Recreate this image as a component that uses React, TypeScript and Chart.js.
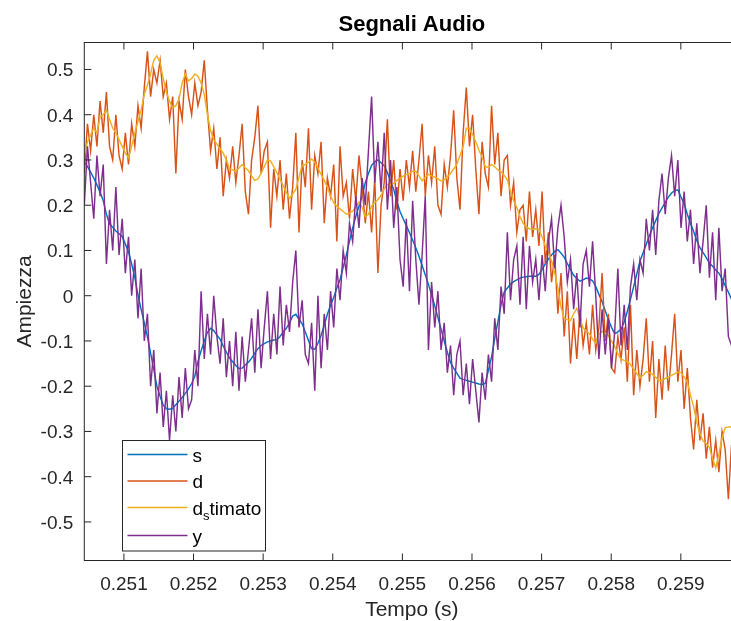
import React, { useEffect, useRef } from "react";
import { Chart, registerables } from "chart.js";

Chart.register(...registerables);

// Sampling grid: 22050 Hz, starting at sample 5522
const SAMPLE_RATE = 22050;
const FIRST_SAMPLE = 5522;
const T_MIN = 5522 / 22050;
const T_MAX = 11459 / 44100;
const Y_MIN = -0.5852;
const Y_MAX = 0.5596;

const X_TICKS = [0.251, 0.252, 0.253, 0.254, 0.255, 0.256, 0.257, 0.258, 0.259];
const X_TICK_LABELS = ["0.251", "0.252", "0.253", "0.254", "0.255", "0.256", "0.257", "0.258", "0.259"];
const Y_TICKS = [0.5, 0.4, 0.3, 0.2, 0.1, 0, -0.1, -0.2, -0.3, -0.4, -0.5];
const Y_TICK_LABELS = ["0.5", "0.4", "0.3", "0.2", "0.1", "0", "-0.1", "-0.2", "-0.3", "-0.4", "-0.5"];

const TITLE = "Segnali Audio";
const X_LABEL = "Tempo (s)";
const Y_LABEL = "Ampiezza";

// clean signal
const S = [
  0.296, 0.285, 0.273, 0.26, 0.245, 0.229, 0.21, 0.18, 0.159, 0.151,
  0.143, 0.137, 0.131, 0.114, 0.097, 0.07, 0.04, 0.002, -0.03, -0.06,
  -0.091, -0.127, -0.163, -0.2, -0.222, -0.242, -0.25, -0.251, -0.249, -0.241,
  -0.233, -0.225, -0.216, -0.206, -0.194, -0.178, -0.145, -0.122, -0.1, -0.081,
  -0.072, -0.077, -0.087, -0.096, -0.111, -0.125, -0.138, -0.146, -0.154, -0.161,
  -0.16, -0.153, -0.147, -0.138, -0.127, -0.117, -0.11, -0.106, -0.102, -0.1,
  -0.098, -0.097, -0.09, -0.08, -0.072, -0.06, -0.045, -0.041, -0.052, -0.062,
  -0.08, -0.099, -0.117, -0.118, -0.105, -0.088, -0.065, -0.041, -0.021, -0.004,
  0.017, 0.035, 0.063, 0.09, 0.12, 0.15, 0.175, 0.198, 0.22, 0.25,
  0.27, 0.288, 0.296, 0.3, 0.294, 0.287, 0.272, 0.254, 0.235, 0.208,
  0.186, 0.17, 0.155, 0.139, 0.123, 0.106, 0.087, 0.067, 0.046, 0.025,
  0.002, -0.022, -0.048, -0.074, -0.1, -0.125, -0.148, -0.16, -0.171, -0.182,
  -0.185, -0.187, -0.189, -0.191, -0.193, -0.195, -0.196, -0.194, -0.165, -0.135,
  -0.095, -0.058, -0.02, 0.008, 0.017, 0.026, 0.031, 0.035, 0.039, 0.041,
  0.042, 0.043, 0.043, 0.043, 0.047, 0.058, 0.07, 0.081, 0.09, 0.098,
  0.102, 0.094, 0.085, 0.071, 0.058, 0.045, 0.038, 0.032, 0.035, 0.039,
  0.037, 0.033, 0.02, 0.003, -0.013, -0.033, -0.053, -0.07, -0.084, -0.08,
  -0.074, -0.058, -0.035, -0.008, 0.02, 0.048, 0.076, 0.095, 0.114, 0.133,
  0.15, 0.166, 0.182, 0.194, 0.206, 0.218, 0.227, 0.232, 0.234, 0.218,
  0.203, 0.18, 0.16, 0.142, 0.122, 0.106, 0.095, 0.084, 0.072, 0.065,
  0.057, 0.05, 0.038, 0.022, 0.008, -0.008, -0.025, -0.042,
];

// disturbance
const D = [
  0.27, 0.38, 0.32, 0.4, 0.33, 0.43, 0.36, 0.45, 0.33, 0.3,
  0.4, 0.31, 0.28, 0.36, 0.29, 0.38, 0.33, 0.42, 0.37, 0.46,
  0.54, 0.44, 0.5, 0.47, 0.52, 0.44, 0.47, 0.39, 0.44, 0.27,
  0.43, 0.39, 0.5, 0.44, 0.4, 0.47, 0.42, 0.45, 0.52, 0.41,
  0.32, 0.37, 0.28, 0.35, 0.22, 0.3, 0.26, 0.33, 0.25, 0.31,
  0.38, 0.23, 0.18, 0.3, 0.35, 0.42, 0.27, 0.32, 0.34, 0.15,
  0.28, 0.22, 0.3, 0.19, 0.27, 0.17, 0.24, 0.36, 0.14, 0.3,
  0.24, 0.37, 0.19, 0.31, 0.27, 0.34, 0.16, 0.26, 0.22, 0.29,
  0.12, 0.33, 0.22, 0.25, 0.17, 0.28, 0.21, 0.31, 0.24, 0.16,
  0.23, 0.14, 0.26, 0.05, 0.2, 0.25, 0.39, 0.22, 0.3, 0.19,
  0.28, 0.21, 0.3, 0.24, 0.32, 0.23, 0.3, 0.38, 0.22, 0.31,
  0.25, 0.33, 0.2, 0.18, 0.29, 0.24, 0.31, 0.41, 0.26, 0.19,
  0.36, 0.46, 0.33, 0.4, 0.28, 0.18, 0.34, 0.27, 0.24, 0.42,
  0.29, 0.36, 0.22, 0.3, 0.31, 0.2, 0.25, 0.14, 0.19, 0.2,
  0.12, 0.23, 0.13, 0.19, 0.11, 0.23, 0.07, 0.14, 0.03, 0.09,
  -0.04, 0.05, -0.09, 0.01, -0.15, -0.05, -0.14, -0.03, -0.11, -0.06,
  -0.13, -0.02, -0.12, -0.07, 0.05, -0.1, -0.04, -0.16, -0.17, -0.09,
  -0.14, -0.07, -0.19, -0.02, -0.22, -0.12, -0.2, -0.14, -0.05, -0.19,
  -0.1, -0.27, -0.14, -0.23, -0.11, -0.21, -0.13, -0.04, -0.19, -0.12,
  -0.25, -0.16, -0.27, -0.34, -0.23, -0.32, -0.26, -0.36, -0.29, -0.38,
  -0.32, -0.39, -0.3, -0.34, -0.45, -0.33, -0.38, -0.3,
];

// estimated disturbance
const D_STIMATO = [
  0.31, 0.34, 0.355, 0.37, 0.36, 0.395, 0.4, 0.41, 0.39, 0.37,
  0.36, 0.345, 0.33, 0.315, 0.305, 0.33, 0.36, 0.385, 0.41, 0.445,
  0.465, 0.49, 0.52, 0.53, 0.515, 0.48, 0.45, 0.43, 0.415, 0.42,
  0.435, 0.47, 0.49, 0.475, 0.48, 0.49, 0.485, 0.47, 0.445, 0.4,
  0.365, 0.345, 0.335, 0.325, 0.315, 0.3, 0.28, 0.278, 0.275, 0.282,
  0.29, 0.283, 0.276, 0.265, 0.255, 0.258, 0.27, 0.285, 0.3, 0.298,
  0.285, 0.272, 0.257, 0.243, 0.228, 0.215, 0.225, 0.235, 0.262, 0.288,
  0.29, 0.295, 0.302, 0.295, 0.282, 0.268, 0.255, 0.24, 0.22, 0.206,
  0.198, 0.192, 0.186, 0.18, 0.183, 0.187, 0.197, 0.207, 0.195, 0.175,
  0.18, 0.198, 0.206, 0.212, 0.222, 0.236, 0.246, 0.244, 0.248, 0.255,
  0.26, 0.264, 0.268, 0.27, 0.275, 0.275, 0.265, 0.254, 0.262, 0.268,
  0.265, 0.262, 0.258, 0.254, 0.256, 0.263, 0.27, 0.28, 0.29, 0.31,
  0.33, 0.37, 0.37, 0.356, 0.34, 0.322, 0.306, 0.285, 0.284, 0.29,
  0.285, 0.278, 0.274, 0.266, 0.256, 0.23, 0.21, 0.195, 0.175, 0.16,
  0.152, 0.148, 0.147, 0.148, 0.147, 0.13, 0.11, 0.095, 0.078, 0.05,
  0.018, -0.025, -0.05, -0.053, -0.055, -0.04, -0.028, -0.05, -0.071, -0.078,
  -0.084, -0.096, -0.105, -0.085, -0.079, -0.083, -0.088, -0.1, -0.112, -0.128,
  -0.14, -0.143, -0.145, -0.152, -0.162, -0.172, -0.182, -0.176, -0.168, -0.17,
  -0.174, -0.18, -0.188, -0.187, -0.183, -0.18, -0.176, -0.172, -0.169, -0.17,
  -0.18, -0.19, -0.22, -0.245, -0.28, -0.305, -0.321, -0.327, -0.335, -0.36,
  -0.38, -0.35, -0.315, -0.292, -0.29, -0.29, -0.3, -0.31,
];

// received signal
const Y = [
  0.2, 0.33, 0.25, 0.17, 0.31, 0.22, 0.29, 0.07, 0.19, 0.1,
  0.24, 0.09, 0.17, 0.05, 0.13, 0.0, 0.08, -0.05, 0.06, -0.1,
  -0.04, -0.2, -0.12, -0.26, -0.17, -0.29, -0.21, -0.32, -0.22, -0.3,
  -0.18, -0.27, -0.16, -0.25, -0.23, -0.12, -0.2, 0.01, -0.14, -0.04,
  -0.13, 0.0, -0.09, -0.15, -0.05, -0.18, -0.1, -0.2, -0.08, -0.21,
  -0.09, -0.19, -0.12, -0.05, -0.17, -0.03, -0.16, -0.07, 0.01, -0.14,
  -0.04, -0.13, 0.02, -0.11, -0.02, -0.08, 0.03, 0.1, -0.07, -0.01,
  -0.13, -0.15, -0.06, -0.21, 0.0, -0.16, -0.04, -0.12, 0.01, -0.07,
  0.06, -0.01, 0.1, 0.05, 0.16, 0.12, 0.22, 0.15, 0.26, 0.2,
  0.32, 0.44, 0.25, 0.34, 0.23, 0.36, 0.19, 0.3, 0.15, 0.24,
  0.08, 0.02, 0.17, 0.01, 0.21, 0.08, -0.02, 0.09, 0.22, -0.12,
  0.03, -0.07, 0.01, -0.12, -0.06, -0.17, -0.11, -0.22, -0.13, -0.1,
  -0.22, -0.15, -0.24, -0.14, -0.21, -0.28, -0.17, -0.23, -0.13, -0.19,
  -0.05, -0.12, 0.02, -0.04, 0.14, -0.01, 0.08, 0.11, -0.02, 0.13,
  -0.03, 0.11, 0.03, 0.08, -0.01, 0.09, 0.01, 0.12, 0.17, 0.06,
  0.15, 0.2, 0.13, 0.03, 0.08, -0.03, 0.05, -0.07, 0.07, 0.1,
  0.02, 0.12, 0.0, -0.14, -0.03, -0.13, -0.05, -0.16, -0.08, 0.06,
  -0.11, -0.02, -0.12, 0.02, 0.07, -0.01, 0.08, 0.05, 0.17, 0.1,
  0.19, 0.09, 0.21, 0.27, 0.18, 0.26, 0.31, 0.22, 0.3, 0.15,
  0.23, 0.12, 0.19, 0.07, 0.16, 0.05, 0.12, 0.2, 0.04, 0.14,
  -0.01, 0.15, 0.01, 0.06, -0.09, -0.11, -0.02, -0.12,
];

const SERIES_NAMES = ["s", "d", "d_stimato", "y"];
const SERIES_COLORS = ["#0072BD", "#D95319", "#EDB120", "#7E2F8E"];

const FONT = "'Liberation Sans', Arial, Helvetica, sans-serif";
const INK = "#262626";
const LINE_WIDTH = 1.45;

const toPoints = (vals: number[]) =>
  vals.map((v, i) => ({ x: (FIRST_SAMPLE + i) / SAMPLE_RATE, y: v }));

function drawLabelWithSubscript(ctx: CanvasRenderingContext2D, text: string, x: number, y: number) {
  const parts = text.split("_");
  ctx.textAlign = "left";
  ctx.font = `19px ${FONT}`;
  ctx.fillText(parts[0], x, y);
  let cx = x + ctx.measureText(parts[0]).width;
  if (parts.length > 1) {
    const sub = parts[1].charAt(0);
    ctx.font = `13px ${FONT}`;
    ctx.fillText(sub, cx, y + 5);
    cx += ctx.measureText(sub).width;
    ctx.font = `19px ${FONT}`;
    ctx.fillText(parts[1].slice(1), cx, y);
  }
}

const axesDecor = {
  id: "axesDecor",
  afterDraw(chart: any) {
    const { ctx, chartArea: a } = chart;
    const xs = chart.scales.x;
    const ys = chart.scales.y;
    ctx.save();

    // box
    ctx.strokeStyle = INK;
    ctx.lineWidth = 1;
    ctx.strokeRect(a.left, a.top, a.right - a.left, a.bottom - a.top);

    // inward tick marks
    ctx.beginPath();
    X_TICKS.forEach((v) => {
      const px = xs.getPixelForValue(v);
      ctx.moveTo(px, a.bottom);
      ctx.lineTo(px, a.bottom - 7);
      ctx.moveTo(px, a.top);
      ctx.lineTo(px, a.top + 7);
    });
    Y_TICKS.forEach((v) => {
      const py = ys.getPixelForValue(v);
      ctx.moveTo(a.left, py);
      ctx.lineTo(a.left + 7, py);
      ctx.moveTo(a.right, py);
      ctx.lineTo(a.right - 7, py);
    });
    ctx.stroke();

    // tick labels
    ctx.fillStyle = INK;
    ctx.font = `19px ${FONT}`;
    ctx.textBaseline = "alphabetic";
    ctx.textAlign = "center";
    X_TICKS.forEach((v, i) => {
      ctx.fillText(X_TICK_LABELS[i], xs.getPixelForValue(v), a.bottom + 29.5);
    });
    ctx.textAlign = "right";
    Y_TICKS.forEach((v, i) => {
      ctx.fillText(Y_TICK_LABELS[i], a.left - 11, ys.getPixelForValue(v) + 6.8);
    });

    // title and axis labels
    const cx = (a.left + a.right) / 2;
    ctx.textAlign = "center";
    ctx.font = `bold 22px ${FONT}`;
    ctx.fillStyle = "#000000";
    ctx.fillText(TITLE, cx, 30.5);
    ctx.fillStyle = INK;
    ctx.font = `21px ${FONT}`;
    ctx.fillText(X_LABEL, cx, 616);
    ctx.save();
    ctx.translate(31, (a.top + a.bottom) / 2);
    ctx.rotate(-Math.PI / 2);
    ctx.fillText(Y_LABEL, 0, 0);
    ctx.restore();

    // legend
    const lx = 122.5;
    const ly = 440.5;
    const lw = 143;
    const lh = 110.5;
    ctx.fillStyle = "#ffffff";
    ctx.fillRect(lx, ly, lw, lh);
    ctx.strokeStyle = INK;
    ctx.lineWidth = 1;
    ctx.strokeRect(lx, ly, lw, lh);
    const rows = [454.5, 481, 507.5, 535.5];
    SERIES_NAMES.forEach((name, i) => {
      ctx.strokeStyle = SERIES_COLORS[i];
      ctx.lineWidth = LINE_WIDTH;
      ctx.beginPath();
      ctx.moveTo(lx + 5, rows[i]);
      ctx.lineTo(lx + 65, rows[i]);
      ctx.stroke();
      ctx.fillStyle = "#000000";
      drawLabelWithSubscript(ctx, name, lx + 70, rows[i] + 7);
    });

    ctx.restore();
  },
};

export default function App() {
  const canvasRef = useRef<HTMLCanvasElement | null>(null);

  useEffect(() => {
    const canvas = canvasRef.current;
    if (!canvas) return;
    const series = [S, D, D_STIMATO, Y];
    const drawOrder = [3, 2, 1, 0];
    const chart = new Chart(canvas, {
      type: "line",
      data: {
        datasets: series.map((vals, i) => ({
          label: SERIES_NAMES[i],
          data: toPoints(vals),
          borderColor: SERIES_COLORS[i],
          backgroundColor: SERIES_COLORS[i],
          borderWidth: LINE_WIDTH,
          pointRadius: 0,
          tension: 0,
          fill: false,
          order: drawOrder[i],
        })),
      },
      options: {
        animation: false,
        responsive: false,
        events: [],
        layout: { padding: { top: 42.5, left: 0, right: 0.6, bottom: 0 } },
        plugins: {
          legend: { display: false },
          title: { display: false },
          tooltip: { enabled: false },
        },
        scales: {
          x: {
            type: "linear",
            min: T_MIN,
            max: T_MAX,
            ticks: { display: false },
            grid: { display: false, drawTicks: false },
            border: { display: false },
            afterFit: (s: any) => {
              s.height = 60.5;
            },
          },
          y: {
            type: "linear",
            min: Y_MIN,
            max: Y_MAX,
            ticks: { display: false },
            grid: { display: false, drawTicks: false },
            border: { display: false },
            afterFit: (s: any) => {
              s.width = 84.3;
            },
          },
        },
      },
      plugins: [axesDecor],
    });
    return () => chart.destroy();
  }, []);

  return (
    <div
      style={{
        position: "absolute",
        left: 0,
        top: 0,
        width: 731,
        height: 621,
        overflow: "hidden",
        background: "#ffffff",
      }}
    >
      <canvas ref={canvasRef} width={740} height={621} style={{ display: "block" }} />
    </div>
  );
}
